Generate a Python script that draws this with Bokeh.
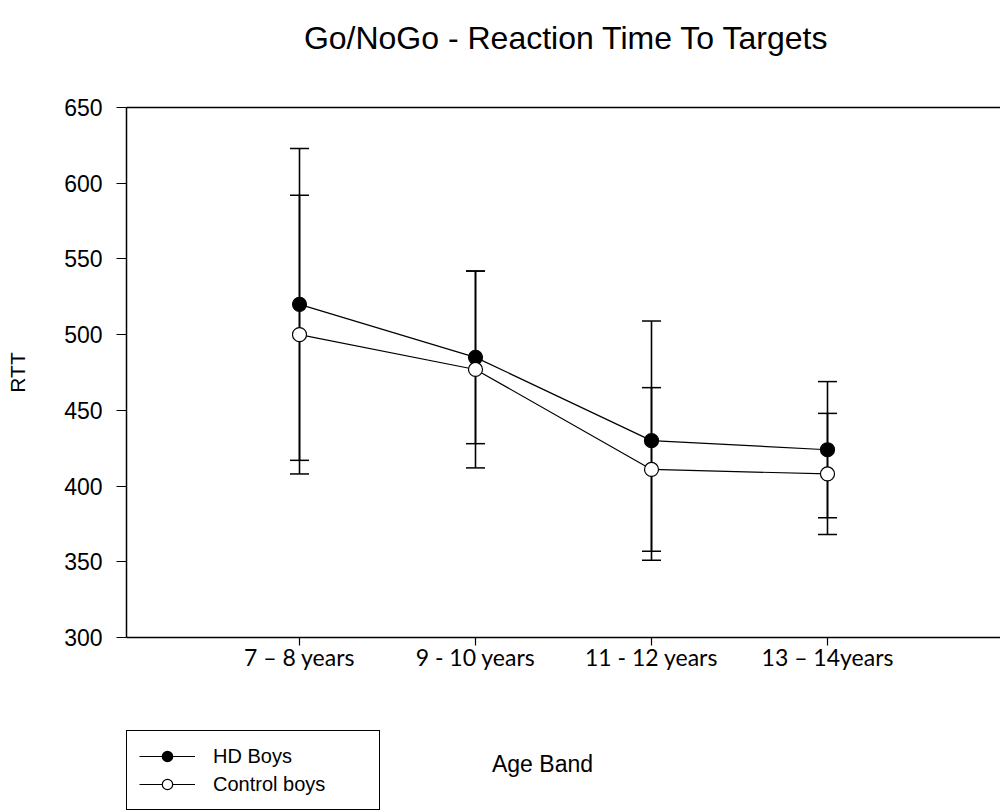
from bokeh.plotting import figure
from bokeh.layouts import column
from bokeh.models import (Range1d, LinearAxis, FixedTicker, Whisker, TeeHead,
                          ColumnDataSource, Legend, LegendItem, Label)
from bokeh.embed import file_html
from bokeh.resources import INLINE

# Age bands on the x axis
categories = ["7 – 8 years", "9 - 10 years", "11 - 12 years", "13 – 14years"]
positions = [1, 2, 3, 4]

# Mean reaction time to targets (ms) and error-bar half widths
hd_mean = [520, 485, 430, 424]
hd_err = [103, 57, 79, 45]
ctl_mean = [500, 477, 411, 408]
ctl_err = [92, 65, 54, 40]

y_ticks = [300, 350, 400, 450, 500, 550, 600, 650]
series_names = ["HD Boys", "Control boys"]

hd_src = ColumnDataSource(dict(
    x=positions, y=hd_mean,
    upper=[m + e for m, e in zip(hd_mean, hd_err)],
    lower=[m - e for m, e in zip(hd_mean, hd_err)],
))
ctl_src = ColumnDataSource(dict(
    x=positions, y=ctl_mean,
    upper=[m + e for m, e in zip(ctl_mean, ctl_err)],
    lower=[m - e for m, e in zip(ctl_mean, ctl_err)],
))

FONT = "Liberation Sans"


def strip(height):
    """Axis-less band that shares the chart's horizontal frame."""
    f = figure(width=1000, height=height, output_backend="svg", toolbar_location=None,
               x_range=Range1d(0, 1000), y_range=Range1d(0, height),
               x_axis_type=None, y_axis_type=None, min_border=0)
    f.outline_line_color = None
    f.xgrid.visible = False
    f.ygrid.visible = False
    f.background_fill_color = "white"
    f.border_fill_color = "white"
    return f


# ---- title band -------------------------------------------------------------
t = strip(90)
t.add_layout(Label(x=440, y=53, x_units="screen", y_units="screen",
                   text="Go/NoGo - Reaction Time To Targets",
                   text_align="center", text_baseline="middle",
                   text_font=FONT, text_font_size="32px", text_color="black"))

# ---- main chart -------------------------------------------------------------
p = figure(width=1000, height=610, output_backend="svg", toolbar_location=None,
           x_range=Range1d(0.017, 4.983), y_range=Range1d(300, 650),
           min_border_left=126, min_border_right=0,
           min_border_top=17, min_border_bottom=63)
p.outline_line_color = None
p.xgrid.visible = False
p.ygrid.visible = False
p.background_fill_color = "white"
p.border_fill_color = "white"

xa = p.xaxis[0]
xa.ticker = FixedTicker(ticks=positions)
xa.major_label_overrides = {pos: lab for pos, lab in zip(positions, categories)}
xa.major_label_text_font = "Lato"
xa.major_label_text_font_size = "23px"
xa.major_label_text_color = "black"
xa.major_label_standoff = -3
xa.major_tick_out = 8
xa.major_tick_in = 0
xa.minor_tick_out = 0
xa.minor_tick_in = 0
xa.axis_line_width = 1.5
xa.major_tick_line_width = 1.2

ya = p.yaxis[0]
ya.ticker = FixedTicker(ticks=y_ticks)
ya.major_label_text_font = FONT
ya.major_label_text_font_size = "23px"
ya.major_label_text_color = "black"
ya.major_label_standoff = 14
ya.major_tick_out = 10
ya.major_tick_in = 0
ya.minor_tick_out = 0
ya.minor_tick_in = 0
ya.axis_line_width = 1.5
ya.major_tick_line_width = 1.2
ya.axis_label = "RTT"
ya.axis_label_text_font = FONT
ya.axis_label_text_font_size = "21px"
ya.axis_label_text_font_style = "normal"
ya.axis_label_text_color = "black"
ya.axis_label_standoff = 32

# plain line along the top of the plotting area
top = LinearAxis(ticker=FixedTicker(ticks=[]), major_label_text_font_size="0px",
                 axis_line_width=1.5, major_tick_out=0, major_tick_in=0,
                 minor_tick_out=0, minor_tick_in=0,
                 major_tick_line_color=None, minor_tick_line_color=None)
p.add_layout(top, "above")

# error bars behind the markers
for src in (hd_src, ctl_src):
    w = Whisker(source=src, base="x", upper="upper", lower="lower",
                line_color="black", line_width=1.6, level="underlay",
                upper_head=TeeHead(size=19, line_width=1.5, line_color="black"),
                lower_head=TeeHead(size=19, line_width=1.5, line_color="black"))
    p.add_layout(w)

p.line("x", "y", source=hd_src, line_color="black", line_width=1.2)
p.line("x", "y", source=ctl_src, line_color="black", line_width=1.2)
p.scatter("x", "y", source=hd_src, size=14, fill_color="black",
          line_color="black", line_width=1.2)
p.scatter("x", "y", source=ctl_src, size=14, fill_color="white",
          line_color="black", line_width=1.2)

# ---- band under the chart: legend and x-axis title --------------------------
b = strip(111)

# legend keys use the series' own data; it lies outside this band's view
key_hd_line = b.line("x", "y", source=hd_src, line_color="black", line_width=1.2)
key_hd_pt = b.scatter("x", "y", source=hd_src, size=14, fill_color="black",
                      line_color="black", line_width=1.2)
key_ctl_line = b.line("x", "y", source=ctl_src, line_color="black", line_width=1.2)
key_ctl_pt = b.scatter("x", "y", source=ctl_src, size=14, fill_color="white",
                       line_color="black", line_width=1.2)

legend = Legend(items=[LegendItem(label=series_names[0], renderers=[key_hd_line, key_hd_pt]),
                       LegendItem(label=series_names[1], renderers=[key_ctl_line, key_ctl_pt])],
                location=(0, 1), padding=12, margin=0, spacing=2,
                glyph_width=56, glyph_height=26, label_standoff=18,
                label_width=154, label_text_font=FONT,
                label_text_font_size="20px", label_text_color="black",
                border_line_color="black", border_line_width=1.5,
                border_line_alpha=1.0,
                background_fill_color="white", background_fill_alpha=1.0)
b.add_layout(legend, "center")

b.add_layout(Label(x=416, y=48, x_units="screen", y_units="screen",
                   text="Age Band", text_align="center", text_baseline="middle",
                   text_font=FONT, text_font_size="23px", text_color="black"))

open("out.html", "w").write(file_html(column(t, p, b, spacing=0), INLINE))
